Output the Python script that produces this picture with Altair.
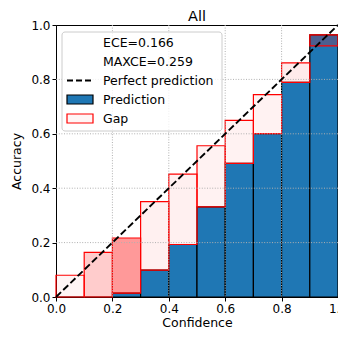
import altair as alt
import pandas as pd

bin_lo = [0.0, 0.1, 0.2, 0.3, 0.4, 0.5, 0.6, 0.7, 0.8, 0.9]
bin_hi = [0.1, 0.2, 0.3, 0.4, 0.5, 0.6, 0.7, 0.8, 0.9, 1.0]
accuracy = [0.0, 0.0, 0.014, 0.099, 0.193, 0.331, 0.491, 0.601, 0.789, 0.964]
confidence = [0.080, 0.164, 0.217, 0.351, 0.452, 0.556, 0.649, 0.744, 0.861, 0.923]
gap_alpha = [0.04, 0.2, 0.4, 0.06, 0.06, 0.05, 0.05, 0.05, 0.08, 0.2]
tick_vals = [0.0, 0.2, 0.4, 0.6, 0.8, 1.0]
grid_vals = [0.2, 0.4, 0.6, 0.8]
diag_vals = [0.0, 1.0]
legend_labels = ["ECE=0.166", "MAXCE=0.259", "Perfect prediction", "Prediction", "Gap"]

FONT = "DejaVu Sans"

df = pd.DataFrame(dict(lo=bin_lo, hi=bin_hi, acc=accuracy, conf=confidence, alpha=gap_alpha))
df["gap_lo"] = df[["acc", "conf"]].min(axis=1)
df["gap_hi"] = df[["acc", "conf"]].max(axis=1)

xs = alt.Scale(domain=[0, 1], nice=False, zero=False)
ys = alt.Scale(domain=[0, 1], nice=False, zero=False)
xaxis = alt.Axis(values=tick_vals, format=".1f", title="Confidence", grid=False,
                 labelFlush=False, labelOverlap=False)
yaxis = alt.Axis(values=tick_vals, format=".1f", title="Accuracy", grid=False,
                 labelFlush=False, labelOverlap=False)

base = alt.Chart(df)
pred = base.mark_rect(fill="#1f77b4", stroke="black", strokeWidth=1.2).encode(
    x=alt.X("lo:Q", scale=xs, axis=xaxis),
    x2="hi:Q",
    y=alt.Y("acc:Q", scale=ys, axis=yaxis),
    y2=alt.datum(0),
)
gap = base.mark_rect(fill="red", stroke="red", strokeWidth=1.2).encode(
    x=alt.X("lo:Q", scale=xs, axis=xaxis),
    x2="hi:Q",
    y=alt.Y("gap_lo:Q", scale=ys, axis=yaxis),
    y2="gap_hi:Q",
    fillOpacity=alt.FillOpacity("alpha:Q", scale=None),
)
gdf = pd.DataFrame({"g": grid_vals})
vgrid = alt.Chart(gdf).mark_rule(color="#b0b0b0", strokeDash=[1, 1.6], strokeWidth=1).encode(
    x=alt.X("g:Q", scale=xs, axis=xaxis))
hgrid = alt.Chart(gdf).mark_rule(color="#b0b0b0", strokeDash=[1, 1.6], strokeWidth=1).encode(
    y=alt.Y("g:Q", scale=ys, axis=yaxis))
diag = alt.Chart(pd.DataFrame({"c": diag_vals})).mark_line(
    color="black", strokeDash=[7, 3], strokeWidth=1.9).encode(
    x=alt.X("c:Q", scale=xs, axis=xaxis), y=alt.Y("c:Q", scale=ys, axis=yaxis))

TOP = 25  # page y of plot top
one = pd.DataFrame({"k": [0]})
layers = [pred, gap, vgrid, hgrid, diag]
layers.append(alt.Chart(one).mark_rect(fill="white", fillOpacity=0.8, stroke="#cccccc",
                                       strokeWidth=1, cornerRadius=3).encode(
    x=alt.value(6), x2=alt.value(166), y=alt.value(32 - TOP), y2=alt.value(131 - TOP)))
row0, step = 42.5 - TOP, 19
for i, lab in enumerate(legend_labels):
    cy = row0 + step * i
    layers.append(alt.Chart(one).mark_text(align="left", baseline="middle", font=FONT,
                                           fontSize=12.5, color="black").encode(
        x=alt.value(47), y=alt.value(cy), text=alt.value(lab)))
    if lab == "Perfect prediction":
        layers.append(alt.Chart(one).mark_rule(color="black", strokeDash=[6, 3],
                                               strokeWidth=1.9).encode(
            x=alt.value(11), x2=alt.value(38), y=alt.value(cy)))
    elif lab == "Prediction":
        layers.append(alt.Chart(one).mark_rect(fill="#1f77b4", stroke="black",
                                               strokeWidth=1.2).encode(
            x=alt.value(11), x2=alt.value(37), y=alt.value(cy - 4.5), y2=alt.value(cy + 4.5)))
    elif lab == "Gap":
        layers.append(alt.Chart(one).mark_rect(fill="red", fillOpacity=0.04, stroke="red",
                                               strokeWidth=1.2).encode(
            x=alt.value(11), x2=alt.value(37), y=alt.value(cy - 4.5), y2=alt.value(cy + 4.5)))

chart = alt.layer(*layers).properties(
    width=282, height=272,
    title=alt.TitleParams("All", font=FONT, fontSize=14.5, fontWeight="normal", color="black",
                          offset=-5),
    autosize="none",
    padding={"left": 48, "top": TOP - 8, "right": 0, "bottom": 34},
).configure_view(stroke="black", strokeWidth=1).configure_axis(
    domainColor="black", domainWidth=1, tickColor="black", tickWidth=1, tickSize=4,
    labelFont=FONT, labelFontSize=12, labelColor="black", labelPadding=2,
    titleFont=FONT, titleFontSize=12.5, titleFontWeight="normal", titleColor="black",
).configure_axisX(titlePadding=2).configure_axisY(titlePadding=7)

chart.save("out.html", embed_options={"renderer": "svg", "actions": False})
